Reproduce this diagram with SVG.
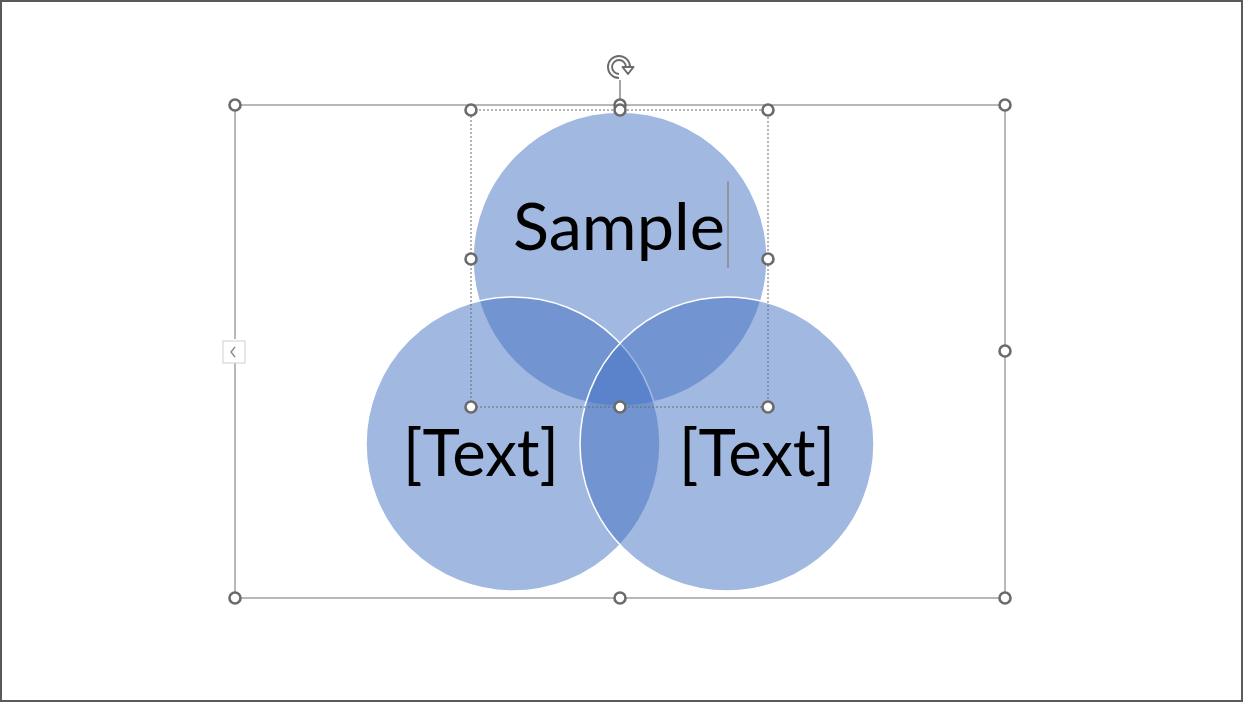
<svg xmlns="http://www.w3.org/2000/svg" width="1244" height="703" viewBox="0 0 1244 703">
<style>
.c{fill:#4472C4;fill-opacity:0.5;stroke:#ffffff;stroke-width:1.5}
.t{font-family:Lato,"Open Sans","Liberation Sans",sans-serif;fill:#000000}
.h{fill:#ffffff;stroke:#6b6b6b;stroke-width:2.6}
.sel{fill:none;stroke:#707070;stroke-width:1}
.dot{fill:none;stroke:#6b6b6b;stroke-width:1;stroke-dasharray:2 2}
</style>
<rect x="1" y="1" width="1241" height="700" fill="#ffffff" stroke="#5a5a5a" stroke-width="2"/>
<g id="circle-top"><circle class="c" cx="620" cy="259" r="147"/></g>
<g id="circle-left"><circle class="c" cx="513" cy="444" r="147"/></g>
<g id="circle-right"><circle class="c" cx="727" cy="444" r="147"/></g>
<g id="labels">
<text class="t" x="619" y="250" font-size="66" text-anchor="middle" textLength="212" lengthAdjust="spacingAndGlyphs">Sample</text>
<text class="t" x="481" y="476" font-size="66" text-anchor="middle" textLength="156" lengthAdjust="spacingAndGlyphs">[Text]</text>
<text class="t" x="757" y="476" font-size="66" text-anchor="middle" textLength="156" lengthAdjust="spacingAndGlyphs">[Text]</text>
</g>
<line x1="728" y1="181" x2="728" y2="268" stroke="#8a8a8a" stroke-width="1.5"/>
<g id="selection">
<path class="sel" d="M235 105H1005V598H235V363M235 339V105"/>
<rect class="dot" x="471" y="110" width="297" height="297"/>
<line x1="620" y1="80" x2="620" y2="105" stroke="#6b6b6b" stroke-width="1.2"/>
<g id="rotate" fill="none">
<path d="M619 76 A9 9 0 1 1 628 67" stroke="#6b6b6b" stroke-width="6"/>
<path d="M619 76 A9 9 0 1 1 628 67" stroke="#ffffff" stroke-width="2.2"/>
<path d="M622.5 67 L633.5 67 L628 74 Z" fill="#ffffff" stroke="#6b6b6b" stroke-width="2" stroke-linejoin="round"/>
</g>
<rect x="223" y="341" width="22" height="22" fill="#ffffff" stroke="#d8d8d8" stroke-width="1.2"/>
<path d="M235 347 L231 352 L235 357" fill="none" stroke="#8a8a8a" stroke-width="1.4"/>
<circle class="h" cx="235" cy="105" r="5.5"/>
<circle class="h" cx="620" cy="105" r="5.5"/>
<circle class="h" cx="1005" cy="105" r="5.5"/>
<circle class="h" cx="1005" cy="351" r="5.5"/>
<circle class="h" cx="235" cy="598" r="5.5"/>
<circle class="h" cx="620" cy="598" r="5.5"/>
<circle class="h" cx="1005" cy="598" r="5.5"/>
<circle class="h" cx="471" cy="110" r="5.5"/>
<circle class="h" cx="620" cy="110" r="5.5"/>
<circle class="h" cx="768" cy="110" r="5.5"/>
<circle class="h" cx="471" cy="259" r="5.5"/>
<circle class="h" cx="768" cy="259" r="5.5"/>
<circle class="h" cx="471" cy="407" r="5.5"/>
<circle class="h" cx="620" cy="407" r="5.5"/>
<circle class="h" cx="768" cy="407" r="5.5"/>
</g>
</svg>
